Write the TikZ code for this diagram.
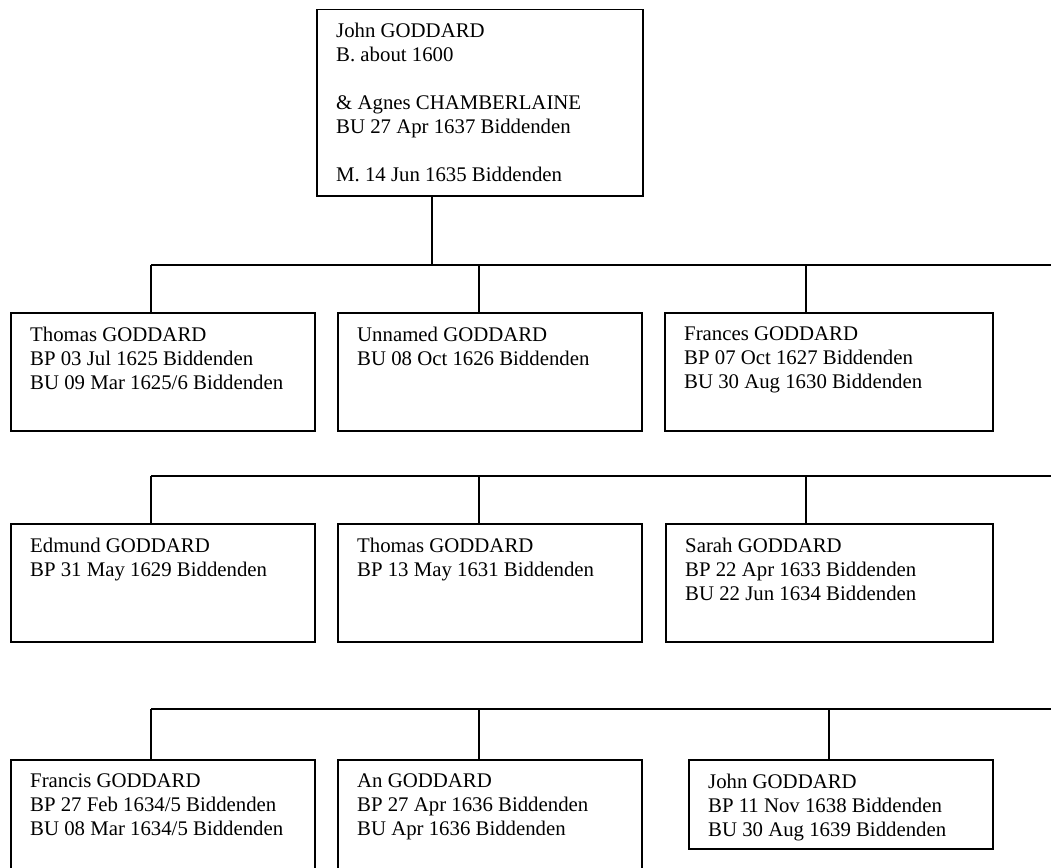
\documentclass[tikz,border=0pt]{standalone}
\usepackage{fontspec}
\setmainfont{Liberation Serif}
\tikzset{
	person/.style={draw, line width=1.5pt, anchor=north west, inner sep=0pt, minimum width=304pt, minimum height=118pt},
	entry/.style={anchor=north west, align=left, inner sep=0pt, font=\fontsize{20.8}{24}\selectfont},
	link/.style={line width=1.5pt}
}
\begin{document}
\begin{tikzpicture}[x=1pt,y=-1pt]
		\useasboundingbox (0,0) rectangle (1051,867);
		\clip (0,0) rectangle (1051,867);
		% parents
		\node[person,minimum width=326pt,minimum height=186pt] (john) at (316,9) {};
		\node[entry] (johnT) at ([xshift=20pt,yshift=-14pt]john.north west)
		{John GODDARD\\B. about 1600\\[24pt]\& Agnes CHAMBERLAINE\\BU 27 Apr 1637 Biddenden\\[24pt]M. 14 Jun 1635 Biddenden};
		% first row
		\node[person] (thomasA) at (10,312) {};
		\node[person] (unnamed) at (337,312) {};
		\node[person,minimum width=328pt] (frances) at (664,312) {};
		\node[entry] (thomasAT) at ([xshift=20pt,yshift=-15pt]thomasA.north west)
		{Thomas GODDARD\\BP 03 Jul 1625 Biddenden\\BU 09 Mar 1625/6 Biddenden};
		\node[entry] (unnamedT) at ([xshift=20pt,yshift=-15pt]unnamed.north west)
		{Unnamed GODDARD\\BU 08 Oct 1626 Biddenden};
		\node[entry] (francesT) at ([xshift=20pt,yshift=-15pt]frances.north west)
		{Frances GODDARD\\BP 07 Oct 1627 Biddenden\\BU 30 Aug 1630 Biddenden};
		% second row
		\node[person] (edmund) at (10,523) {};
		\node[person] (thomasB) at (337,523) {};
		\node[person,minimum width=327pt] (sarah) at (665,523) {};
		\node[entry] (edmundT) at ([xshift=20pt,yshift=-15pt]edmund.north west)
		{Edmund GODDARD\\BP 31 May 1629 Biddenden};
		\node[entry] (thomasBT) at ([xshift=20pt,yshift=-15pt]thomasB.north west)
		{Thomas GODDARD\\BP 13 May 1631 Biddenden};
		\node[entry] (sarahT) at ([xshift=20pt,yshift=-15pt]sarah.north west)
		{Sarah GODDARD\\BP 22 Apr 1633 Biddenden\\BU 22 Jun 1634 Biddenden};
		% third row
		\node[person,minimum height=130pt] (francis) at (10,759) {};
		\node[person,minimum height=130pt] (an) at (337,759) {};
		\node[person,minimum height=89pt] (johnB) at (688,759) {};
		\node[entry] (francisT) at ([xshift=20pt,yshift=-15pt]francis.north west)
		{Francis GODDARD\\BP 27 Feb 1634/5 Biddenden\\BU 08 Mar 1634/5 Biddenden};
		\node[entry] (anT) at ([xshift=20pt,yshift=-15pt]an.north west)
		{An GODDARD\\BP 27 Apr 1636 Biddenden\\BU Apr 1636 Biddenden};
		\node[entry] (johnBT) at ([xshift=20pt,yshift=-15pt]johnB.north west)
		{John GODDARD\\BP 11 Nov 1638 Biddenden\\BU 30 Aug 1639 Biddenden};
		% buses
		\coordinate (busA) at (151,265);
		\coordinate (busAend) at (1051,265);
		\coordinate (busB) at (151,476);
		\coordinate (busBend) at (1051,476);
		\coordinate (busC) at (151,709);
		\coordinate (busCend) at (1051,709);
		\draw[link] (busA) -- (busAend);
		\draw[link] (busB) -- (busBend);
		\draw[link] (busC) -- (busCend);
		\draw[link] ([xshift=-48pt]john.south) -- ([xshift=-48pt]john.south |- busA);
		\draw[link] (busA) -- (busA |- thomasA.north);
		\draw[link] ([xshift=-11pt]unnamed.north) -- ([xshift=-11pt]unnamed.north |- busA);
		\draw[link] ([xshift=-23pt]frances.north) -- ([xshift=-23pt]frances.north |- busA);
		\draw[link] (busB) -- (busB |- edmund.north);
		\draw[link] ([xshift=-11pt]thomasB.north) -- ([xshift=-11pt]thomasB.north |- busB);
		\draw[link] ([xshift=-23.5pt]sarah.north) -- ([xshift=-23.5pt]sarah.north |- busB);
		\draw[link] (busC) -- (busC |- francis.north);
		\draw[link] ([xshift=-11pt]an.north) -- ([xshift=-11pt]an.north |- busC);
		\draw[link] ([xshift=-12pt]johnB.north) -- ([xshift=-12pt]johnB.north |- busC);
\end{tikzpicture}
\end{document}
